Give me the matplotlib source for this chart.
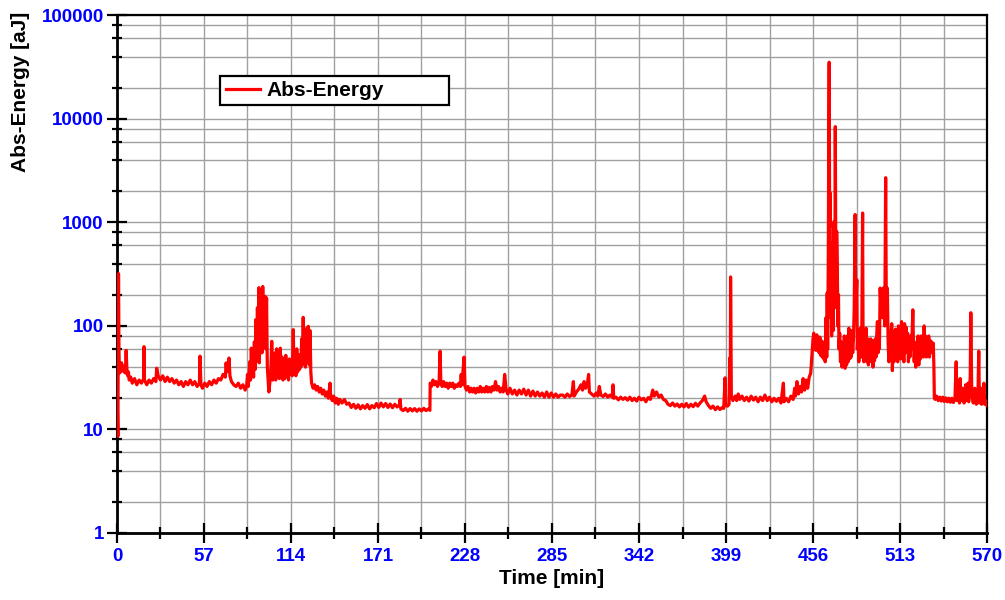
import matplotlib
matplotlib.use("Agg")
import matplotlib.pyplot as plt
from matplotlib.patches import Rectangle
from matplotlib.ticker import FixedLocator, NullFormatter

# (time [min], abs-energy [aJ]), segment by segment
start = [(0, 9), (0.3, 15), (0.6, 8.6), (1.0, 320), (1.3, 60), (1.6, 35), (2.0, 42),
         (2.5, 36), (3, 44), (3.5, 38), (4, 41), (4.5, 36), (5, 40), (5.5, 35),
         (6, 58), (6.5, 38), (7, 33), (7.5, 36), (8, 30), (9, 32), (10, 28)]

plateau1 = [(11.5, 31), (13, 27), (14.5, 30), (16, 28), (17.5, 31), (17.7, 63), (18, 30),
            (19.5, 27), (21, 30), (22.5, 28), (24, 31), (25.5, 29), (26, 39), (27, 33),
            (28.5, 30), (30, 33), (31.5, 29), (33, 32), (34.5, 29), (36, 31), (37.5, 28),
            (39, 30), (40.5, 27), (42, 29), (43.5, 26), (45, 29), (46.5, 27), (48, 30),
            (49.5, 27), (51, 29), (52.5, 26), (54, 28), (54.4, 51), (55, 27), (56, 25),
            (57.5, 28), (59, 26), (60.5, 29), (62, 27), (63.5, 30), (65, 28), (66.5, 31),
            (68, 30), (69.5, 34), (71, 32), (71.5, 44), (72, 36), (73, 40), (73.4, 49),
            (74, 33), (75, 29), (76.5, 27), (78, 26), (79.5, 28), (81, 25), (82.5, 27),
            (84, 24)]

burst1 = [(85, 27), (85.5, 34), (86, 26), (86.5, 33), (87, 45), (87.5, 30), (88, 61),
          (88.5, 35), (89, 48), (89.5, 32), (90, 70), (90.5, 38), (91, 115), (91.5, 45),
          (92, 150), (92.5, 60), (93, 234), (93.3, 44), (93.7, 120), (94.2, 70),
          (94.6, 160), (95, 55), (95.5, 240), (96, 75), (96.5, 130), (97, 193), (97.5, 60),
          (98, 186), (98.5, 40), (99, 30), (99.5, 23), (100, 27), (100.7, 35), (101.4, 71),
          (102, 30), (102.5, 45), (103, 32), (103.5, 55), (104, 30), (104.6, 60),
          (105.2, 34), (105.8, 55), (106.4, 31), (107, 61), (107.6, 33), (108.2, 50),
          (108.8, 30), (109.4, 45), (110, 31), (110.6, 52), (111.2, 33), (111.8, 44),
          (112.4, 30), (113, 48), (113.6, 34), (114.2, 40), (114.8, 33), (115.5, 92),
          (116, 35), (116.6, 50), (117.2, 33), (117.8, 60), (118.4, 36), (119, 52),
          (119.6, 38), (120, 53), (120.5, 40), (121, 75), (121.5, 42), (122, 121),
          (122.5, 45), (123, 70), (123.5, 40), (124.3, 95), (124.8, 45), (125.4, 99),
          (126, 42), (126.5, 90), (127, 36), (127.5, 28)]

decline = [(128.5, 25), (129.5, 27), (130.5, 24), (131.5, 26), (132.5, 23), (133.5, 25),
           (134.5, 22), (135.5, 24), (136.5, 21), (137.5, 23), (138.5, 20), (139.6, 28),
           (140, 21), (141, 19), (142, 21), (143, 18), (144, 20), (145, 17.5), (146, 19.5),
           (147.5, 18), (149, 19.5), (150.5, 17.5), (152, 18), (153.5, 16.3), (155, 17.5),
           (156.5, 16), (158, 17.3), (159.5, 15.8), (161, 17), (162.5, 16), (164, 17.4),
           (165.5, 15.8), (167, 17), (168.5, 16.2), (170, 17.8), (171.5, 16.3), (173, 18),
           (174.5, 16.5), (176, 17.8), (177.5, 16.3), (179, 17.6), (180.5, 16.2),
           (182, 17.5), (183.5, 16.5), (185, 17.2), (185.5, 19.5), (186, 15.8),
           (187.5, 15.2), (189, 16), (190.5, 15), (192, 15.9), (193.5, 15.1), (195, 15.9),
           (196.5, 15), (198, 15.8), (199.5, 15.1), (201, 16), (202.5, 15.2), (204, 15.8),
           (205, 15.3)]

plateau2 = [(205.2, 28), (206, 26), (207, 30), (208, 27), (209, 29), (210, 26), (211, 28),
            (211.7, 57), (212.2, 28), (213, 26), (214, 29), (215, 26), (216, 28), (217, 25),
            (218, 28), (219, 26), (220, 28), (221, 25), (222, 27), (223, 26), (224, 28),
            (225, 26), (225.5, 34), (226, 27), (227.4, 50), (228, 26), (229, 24), (230, 26),
            (231, 23), (232, 25), (233, 23), (234, 25), (235, 22.5), (236, 25), (237, 23),
            (238, 26), (239, 23), (240, 25), (241, 23), (242, 26), (243, 23), (244, 25.5),
            (245, 23), (246, 26), (247, 24), (248, 29), (249, 24), (250, 26), (251, 23),
            (252, 25), (253, 23), (254, 34), (255, 24), (256, 22), (257.5, 25), (259, 22),
            (260.5, 24), (262, 21.5), (263.5, 24), (265, 22), (266.5, 24.5), (268, 21.5),
            (269.5, 24), (271, 21), (272.5, 23.5), (274, 21), (275.5, 23), (277, 21),
            (278.5, 22.5), (280, 20.5), (281.5, 23), (283, 20.5), (284.5, 22.5), (286, 20.5),
            (287.5, 22), (289, 20.5), (290.5, 21.5)]

plateau3 = [(292, 21.5), (293.5, 20.5), (295, 22), (296.5, 20.8), (298, 21.5), (299, 29),
            (299.5, 21), (301, 23), (302.5, 24.5), (304, 27), (305, 24), (306, 29),
            (307, 25), (308, 26.5), (309, 34), (309.5, 23), (311, 22), (312.5, 21),
            (314, 22.5), (315, 21), (316, 26), (317, 21.5), (318.5, 20.8), (320, 22),
            (321.5, 20.5), (323, 21.5), (324.5, 20.5), (325, 27), (325.5, 20), (327, 20.5),
            (328.5, 19.3), (330, 20.5), (331.5, 19.5), (333, 20.3), (334.5, 19.2),
            (336, 20.5), (337.5, 19), (339, 20), (340.5, 18.8), (342, 20.5), (343.5, 19.3),
            (345, 20), (346.5, 18.5), (348, 20.3), (349.5, 19.5), (351, 24), (352, 21),
            (353.5, 23), (355, 20.5), (356.5, 21.5), (358, 19.5), (359.5, 19), (361, 17.5),
            (362.5, 17), (364, 18), (365.5, 16.8), (367, 17.6), (368.5, 16.5), (370, 17.5),
            (371.5, 16.5), (373, 17.8), (374.5, 16.4), (376, 17.5), (377.5, 16.6),
            (379, 17.9), (380.5, 16.8), (382, 18), (383.5, 19), (385, 21), (386, 18.5),
            (387.5, 17), (389, 16), (390.5, 16.8), (392, 15.5), (393.5, 16.5), (395, 15.6),
            (396.5, 16.3), (397.5, 16), (398.4, 31.5), (398.8, 17), (400, 16.8), (401, 17.5),
            (401.5, 49), (401.8, 22), (402, 297), (402.5, 21), (403.5, 19), (405, 21),
            (406, 19), (407, 22), (408, 19.5), (409.5, 21), (411, 19), (412.5, 20.5),
            (414, 18.8), (415.5, 21), (417, 19.2), (418.5, 20.5), (420, 18.5), (421.5, 20.5),
            (423, 19), (424.5, 21.5), (426, 19), (427.5, 20.5), (429, 18.5), (430.5, 20),
            (432, 18.7), (433.5, 20), (435, 18), (436.6, 28), (437, 18.5), (438.5, 20),
            (440, 18.5), (441.5, 21), (443, 19.5), (444, 25), (444.5, 21), (445.5, 29),
            (446.5, 22), (447.5, 26), (448.5, 23), (449.5, 31), (450.5, 24), (451.5, 30),
            (452.5, 25), (453.5, 32), (454.5, 35), (455, 45), (455.5, 60), (456, 75)]

burst2 = [(456.5, 85), (457, 60), (457.5, 80), (458, 58), (458.5, 82), (459, 60),
          (459.5, 75), (460, 55), (460.5, 78), (461, 52), (461.5, 72), (462, 50),
          (462.5, 70), (463, 48), (463.5, 65), (464, 45), (464.5, 120), (465, 50),
          (465.3, 208), (465.6, 60), (466, 400), (466.3, 5400), (466.6, 35200),
          (466.9, 900), (467.2, 1930), (467.5, 120), (467.8, 300), (468.2, 80),
          (468.5, 633), (468.8, 150), (469.2, 90), (469.5, 400), (469.8, 1020),
          (470.1, 200), (470.4, 500), (470.6, 8400), (470.9, 600), (471.2, 150),
          (471.5, 815), (471.9, 400), (472.3, 100), (472.7, 200), (473, 60), (473.5, 85),
          (474, 45), (474.5, 70), (475, 40), (475.5, 60), (476, 42), (476.5, 80), (477, 39),
          (477.5, 65), (478, 42), (478.5, 80), (479, 45), (479.5, 95), (480, 48),
          (480.5, 70), (481, 50), (481.5, 90), (482, 55), (482.5, 75), (483, 150),
          (483.6, 1190), (484, 120), (484.7, 279), (485, 60), (485.5, 80), (486, 45),
          (486.5, 70), (487, 95), (487.5, 50), (488, 100), (488.5, 1230), (488.8, 70),
          (489.3, 45), (489.8, 85), (490.3, 50), (490.8, 95), (491.3, 45), (491.8, 75),
          (492.3, 42), (492.8, 70), (493.3, 48), (493.8, 75), (494.3, 45), (494.8, 72),
          (495.3, 40), (495.8, 68), (496.3, 46), (496.8, 75), (497.3, 50), (497.8, 85),
          (498.2, 110), (498.6, 55), (499, 80), (499.5, 60), (500, 232), (500.5, 150),
          (501, 220), (501.5, 120), (502, 232), (502.6, 200), (503, 100), (503.6, 2700),
          (504, 180), (504.7, 232), (505.2, 70), (505.7, 45), (506.2, 80), (506.7, 50),
          (507.2, 90), (507.6, 105), (508, 37), (508.5, 75), (509, 45), (509.5, 85),
          (510, 93), (510.5, 50), (511, 80), (511.5, 45), (512, 100), (512.5, 55),
          (513, 85), (513.5, 48), (514, 110), (514.5, 52), (515, 90), (515.5, 45),
          (516, 105), (516.5, 55), (517, 97), (517.5, 60), (518, 85), (518.5, 45),
          (519, 75), (519.5, 50), (520, 80), (520.5, 60), (521, 90), (521.4, 143),
          (521.8, 70), (522.3, 45), (522.8, 65), (523.3, 40), (523.8, 70), (524.3, 50),
          (524.8, 80), (525.3, 42), (525.8, 75), (526.3, 48), (526.8, 80), (527.3, 55),
          (527.8, 70), (528.3, 50), (528.8, 100), (529.3, 55), (529.8, 80), (530.3, 50),
          (530.8, 75), (531.3, 55), (531.8, 80), (532.3, 50), (532.8, 72), (533.3, 55),
          (533.8, 70), (534.3, 60), (534.8, 68), (535.2, 40), (535.5, 20)]

tail = [(536, 19.5), (537, 21), (538, 19), (539, 20.5), (540, 18.8), (541, 20.5),
        (542, 18.6), (543, 20.2), (544, 18.5), (545, 20), (546, 18.3), (547, 20),
        (548, 18.2), (549, 20), (549.8, 45), (550.3, 19), (551, 22), (552, 18),
        (552.4, 31), (553, 19), (554, 25), (555, 18), (556, 27), (556.5, 19), (557.5, 28),
        (558, 18.5), (559, 32), (559.4, 134), (560, 22), (561, 18), (562, 25), (563, 17.5),
        (564, 20), (564.6, 57), (565, 18), (566, 25), (566.5, 17.5), (567.5, 21), (568, 28),
        (568.5, 17.5), (569, 19), (570, 17)]

segments = [start, plateau1, burst1, decline, plateau2, plateau3, burst2, tail]

x_ticks = [0, 57, 114, 171, 228, 285, 342, 399, 456, 513, 570]
x_minor = [28.5, 85.5, 142.5, 199.5, 256.5, 313.5, 370.5, 427.5, 484.5, 541.5]
y_ticks = [1, 10, 100, 1000, 10000, 100000]
y_labels = ["1", "10", "100", "1000", "10000", "100000"]

points = [p for seg in segments for p in seg]
time = [p[0] for p in points]
energy = [p[1] for p in points]

plt.rcParams["font.family"] = ["Liberation Sans", "DejaVu Sans"]
plt.rcParams["font.weight"] = "bold"

fig = plt.figure(figsize=(10.05, 6.0), dpi=100)
ax = fig.add_axes([0.1164, 0.1117, 0.8657, 0.8628])

ax.plot(time, energy, color="#ff0000", lw=2.3, label="Abs-Energy", zorder=3)

ax.set_yscale("log")
ax.set_xlim(0, 570)
ax.set_ylim(1, 100000)

ax.set_xticks(x_ticks)
ax.set_xticklabels([str(v) for v in x_ticks])
ax.xaxis.set_minor_locator(FixedLocator(x_minor))
ax.set_yticks(y_ticks)
ax.set_yticklabels(y_labels)
y_minor = [m * 10 ** d for d in range(5) for m in (2, 4, 6, 8)]
ax.yaxis.set_minor_locator(FixedLocator(y_minor))
ax.yaxis.set_minor_formatter(NullFormatter())

ax.grid(True, which="both", color="#a0a0a0", lw=1.0)
ax.set_axisbelow(True)

ax.tick_params(axis="both", which="major", direction="inout", length=15, width=1.6,
               labelsize=13.5, labelcolor="#0000ff", color="black")
ax.tick_params(axis="x", which="minor", direction="inout", length=8.5, width=1.6)
ax.tick_params(axis="y", which="minor", direction="inout", length=7.5, width=1.6)
ax.tick_params(axis="x", which="major", pad=3)
ax.tick_params(axis="y", which="major", pad=2)
for lab in ax.get_xticklabels() + ax.get_yticklabels():
    lab.set_fontweight("bold")

for side in ["left", "bottom"]:
    ax.spines[side].set_linewidth(2.0)
for side in ["top", "right"]:
    ax.spines[side].set_linewidth(1.6)

ax.set_xlabel("Time [min]", fontsize=15, fontweight="bold", labelpad=3)
fig.text(20 / 1005, 1 - 92 / 600, "Abs-Energy [aJ]", rotation=90, ha="center",
         va="center", fontsize=15, fontweight="bold")

# legend: text/line from matplotlib, box drawn wider like the original
ax.add_patch(Rectangle((0.1184, 0.8268), 0.2632, 0.056, transform=ax.transAxes,
                       facecolor="white", edgecolor="black", lw=1.6, zorder=4))
leg = ax.legend(loc="center left", bbox_to_anchor=(0.1184, 0.8548), frameon=False,
                fontsize=15, handlelength=1.6, handletextpad=0.35, borderaxespad=0,
                borderpad=0.3)
leg.set_zorder(5)
for txt in leg.get_texts():
    txt.set_fontweight("bold")

fig.savefig("out.png", dpi=100, facecolor="white")
